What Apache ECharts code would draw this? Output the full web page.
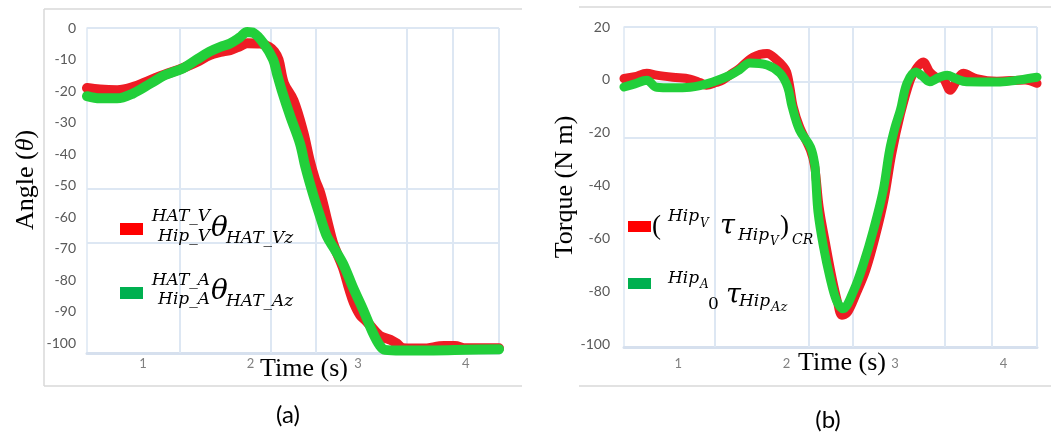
<!DOCTYPE html>
<html><head><meta charset="utf-8">
<script src="https://cdn.jsdelivr.net/npm/echarts@6/dist/echarts.min.js"></script>
<style>html,body{margin:0;padding:0;background:#fff}#c{width:1051px;height:434px}</style>
</head><body><div id="c"></div>
<script>
// ---------- data ----------
const xTickValues = [1, 2, 3, 4];
const aYTicks = [0, -10, -20, -30, -40, -50, -60, -70, -80, -90, -100];
const bYTicks = [20, 0, -20, -40, -60, -80, -100];

// (a) angle, [time s, angle]
const aRed = [[0.48,-19],[0.6,-19.5],[0.76,-19.7],[0.9,-18.8],[1.07,-16.5],[1.2,-14.8],[1.37,-12.7],[1.5,-10.8],[1.62,-8.6],[1.72,-7.6],[1.81,-7],[1.9,-5.8],[1.97,-4.8],[2.09,-4.9],[2.17,-6],[2.22,-7.5],[2.26,-10],[2.31,-17.5],[2.4,-23],[2.49,-33],[2.55,-42],[2.6,-48],[2.65,-52.5],[2.72,-62],[2.77,-68.4],[2.86,-76],[2.92,-83],[2.96,-87],[3.02,-91],[3.08,-93],[3.2,-97.5],[3.3,-98.8],[3.36,-100],[3.42,-101.5],[3.6,-101.6],[3.8,-100.8],[3.9,-100.8],[4.0,-101.5],[4.31,-101.5]];
const aGreen = [[0.48,-21.6],[0.6,-22.3],[0.76,-22.3],[0.91,-20.7],[1.07,-17.6],[1.2,-15],[1.37,-12.8],[1.5,-10],[1.62,-7.5],[1.72,-6],[1.81,-4.9],[1.9,-3],[1.97,-1.3],[2.03,-1.6],[2.12,-4.8],[2.21,-10],[2.25,-15],[2.29,-19.7],[2.37,-28],[2.46,-36.6],[2.51,-44],[2.58,-52.5],[2.65,-60],[2.71,-66],[2.78,-70],[2.86,-74.7],[2.95,-82],[3.05,-89.5],[3.14,-96.8],[3.2,-100.5],[3.25,-102],[3.4,-102.2],[3.7,-102.2],[4.0,-102],[4.31,-101.8]];

// (b) torque, [time s, torque N m]
const bRed = [[0.5,0.5],[0.6,1.2],[0.71,2.5],[0.8,1.8],[0.95,1],[1.11,0.3],[1.2,-1],[1.26,-2],[1.35,-1],[1.41,-0.1],[1.5,2.5],[1.57,4.5],[1.69,8.6],[1.82,10],[1.91,7.5],[1.97,5],[2.0,3],[2.03,-2.7],[2.06,-10],[2.12,-17.8],[2.22,-26.6],[2.26,-33],[2.3,-48],[2.36,-62],[2.42,-75],[2.47,-84],[2.51,-89],[2.56,-88],[2.64,-81],[2.73,-72],[2.82,-59],[2.9,-45],[2.97,-28],[3.05,-13],[3.14,-0.1],[3.2,4.5],[3.26,6.8],[3.32,3],[3.38,1],[3.44,0.6],[3.51,-3.9],[3.56,-1],[3.63,2.5],[3.75,0.5],[3.94,-0.5],[4.2,0],[4.31,-1.3]];
const bGreen = [[0.5,-2.7],[0.6,-1.5],[0.71,-0.1],[0.8,-2.8],[0.95,-3],[1.11,-2.8],[1.2,-2.2],[1.32,-0.8],[1.48,1.8],[1.57,4],[1.66,6.4],[1.82,5.6],[1.94,2.5],[2.01,-2.7],[2.05,-10],[2.12,-19],[2.22,-25.4],[2.26,-32],[2.27,-38],[2.29,-50],[2.34,-63],[2.4,-74.7],[2.46,-83.4],[2.52,-86.5],[2.62,-79.6],[2.71,-69.4],[2.8,-56.9],[2.89,-42],[2.95,-26.6],[3.0,-18],[3.05,-11.4],[3.11,-1.3],[3.19,3],[3.25,1.5],[3.32,-0.7],[3.4,0.8],[3.48,1.8],[3.56,0.5],[3.66,-0.7],[3.97,-0.8],[4.15,0],[4.31,1]];

// extra gridlines of the original sheet
const aGridX = [1.34, 2.19, 2.61, 3.45, 3.88, 4.31];
const aGridY = [0, -51, -68.2];
const bGridX = [1.34, 2.2, 2.61, 3.46, 3.89, 4.31];
const bGridY = [20, -0.8, -21.7];

// ---------- chart ----------
const RED = '#ee1c25', GREEN = '#22cf3a', GRID = '#dde7f3';
const chart = echarts.init(document.getElementById('c'), null, {renderer: 'canvas'});

function gridSeries(idx, xs, ys) {
  return {
    type: 'line', xAxisIndex: idx, yAxisIndex: idx, data: [], z: 1, silent: true,
    markLine: {
      silent: true, z: 1, symbol: ['none', 'none'], animation: false,
      label: {show: false},
      lineStyle: {color: GRID, width: 2, type: 'solid'},
      data: xs.map(v => ({xAxis: v})).concat(ys.map(v => ({yAxis: v})))
    }
  };
}
function curve(idx, data, color, w) {
  return {
    type: 'line', xAxisIndex: idx, yAxisIndex: idx, data: data, z: 3,
    showSymbol: false, smooth: 0.35, silent: true, animation: false,
    lineStyle: {color: color, width: w, cap: 'round', join: 'round'}
  };
}
function xAx(idx, min, margin) {
  return {
    type: 'value', gridIndex: idx, min: min, max: 4.31,
    axisLine: {show: true, onZero: false, lineStyle: {color: '#d6e0ee', width: 3}},
    axisTick: {show: false}, splitLine: {show: false},
    axisLabel: {customValues: xTickValues, color: '#808080', fontSize: 13, fontFamily: 'Lato', margin: margin}
  };
}
function yAx(idx, min, max, ticks, margin) {
  return {
    type: 'value', gridIndex: idx, min: min, max: max,
    axisLine: {show: true, lineStyle: {color: GRID, width: 1.5}},
    axisTick: {show: false}, splitLine: {show: false},
    axisLabel: {customValues: ticks, color: '#595959', fontSize: 14, fontFamily: 'Lato', margin: margin}
  };
}
function txt(text, x, y, font, align, extra) {
  return Object.assign({type: 'text', silent: true, z: 10,
    style: {text: text, x: x, y: y, font: font, fill: '#000', textAlign: align || 'left', textVerticalAlign: 'middle'}}, extra || {});
}
function line(x1, y1, x2, y2, color, w) {
  return {type: 'line', silent: true, z: 0, shape: {x1, y1, x2, y2}, style: {stroke: color, lineWidth: w || 1}};
}
const MI = '"DejaVu Serif"';
const graphics = [
  // frames
  line(44, 9, 522, 9, '#d9d9d9', 1.5), line(44, 9, 44, 386, '#d9d9d9', 1.5), line(44, 386, 522, 386, '#d9d9d9', 1.5),
  line(579, 7, 1051, 7, '#d9d9d9', 1.5), line(579, 386, 1051, 386, '#d9d9d9', 1.5),
  // axis titles
  {type: 'text', silent: true, x: 26, y: 180, rotation: Math.PI / 2,
   style: {text: '{n|Angle (}{i|θ}{n|)}', x: 0, y: 0, textAlign: 'center', textVerticalAlign: 'middle',
     rich: {n: {font: '26px "Liberation Serif"', fill: '#000'}, i: {font: 'italic 26px "Liberation Serif"', fill: '#000'}}}},
  {type: 'text', silent: true, x: 565, y: 187, rotation: Math.PI / 2,
   style: {text: 'Torque (N m)', x: 0, y: 0, textAlign: 'center', textVerticalAlign: 'middle', font: '26px "Liberation Serif"', fill: '#000'}},
  txt('Time (s)', 304, 369, '26px "Liberation Serif"', 'center'),
  txt('Time (s)', 842, 363, '26px "Liberation Serif"', 'center'),
  txt('(a)', 288, 415, '24px Lato', 'center'),
  txt('(b)', 828, 420, '24px Lato', 'center'),
  // legend (a)
  {type: 'rect', silent: true, z: 10, shape: {x: 120, y: 223, width: 23, height: 12}, style: {fill: '#ff0000'}},
  txt('HAT_V', 210, 217, 'italic 17px ' + MI, 'right'),
  txt('Hip_V', 210, 237, 'italic 17px ' + MI, 'right'),
  txt('θ', 211, 229, 'italic 28px ' + MI),
  txt('HAT_Vz', 226, 239, 'italic 17px ' + MI),
  {type: 'rect', silent: true, z: 10, shape: {x: 120, y: 287, width: 23, height: 12}, style: {fill: '#00b050'}},
  txt('HAT_A', 210, 281, 'italic 17px ' + MI, 'right'),
  txt('Hip_A', 210, 300, 'italic 17px ' + MI, 'right'),
  txt('θ', 211, 292, 'italic 28px ' + MI),
  txt('HAT_Az', 226, 302, 'italic 17px ' + MI),
  // legend (b)
  {type: 'rect', silent: true, z: 10, shape: {x: 628, y: 221, width: 23, height: 11}, style: {fill: '#ff0000'}},
  txt('(', 652, 227, '27px "Liberation Serif"'),
  txt('Hip', 668, 217, 'italic 17px ' + MI),
  txt('V', 700, 224, 'italic 12px ' + MI),
  txt('τ', 720, 227, 'italic 27px ' + MI),
  txt('Hip', 738, 236, 'italic 17px ' + MI),
  txt('V', 770, 242, 'italic 12px ' + MI),
  txt(')', 780, 227, '27px "Liberation Serif"'),
  txt('CR', 792, 240, 'italic 14px ' + MI),
  {type: 'rect', silent: true, z: 10, shape: {x: 628, y: 278, width: 23, height: 11}, style: {fill: '#00b050'}},
  txt('Hip', 668, 279, 'italic 17px ' + MI),
  txt('A', 700, 285, 'italic 12px ' + MI),
  txt('0', 708, 305, '17px ' + MI),
  txt('τ', 726, 296, 'italic 27px ' + MI),
  txt('Hip', 739, 302, 'italic 17px ' + MI),
  txt('Az', 771, 308, 'italic 13px ' + MI)
];

chart.setOption({
  animation: false,
  backgroundColor: '#fff',
  grid: [
    {left: 87, top: 28, width: 412, height: 325},
    {left: 624, top: 27, width: 413, height: 320}
  ],
  xAxis: [xAx(0, 0.48, 4), xAx(1, 0.5, 10)],
  yAxis: [yAx(0, -103, 0, aYTicks, 11), yAx(1, -101, 20, bYTicks, 14)],
  series: [
    gridSeries(0, aGridX, aGridY),
    gridSeries(1, bGridX, bGridY),
    curve(0, aRed, RED, 10), curve(0, aGreen, GREEN, 10),
    curve(1, bRed, RED, 9), curve(1, bGreen, GREEN, 9)
  ],
  graphic: graphics
});
</script></body></html>
